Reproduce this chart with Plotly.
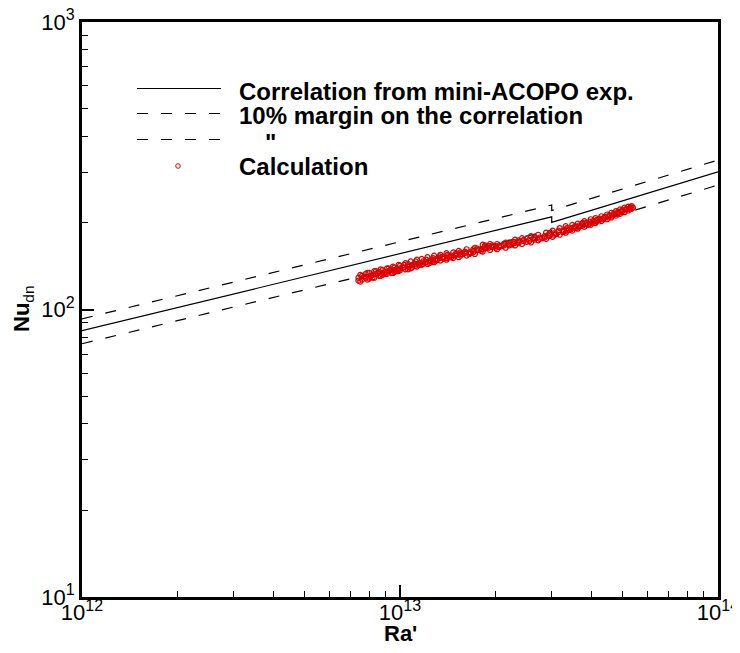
import plotly.graph_objects as go

# ---------------- data ----------------
# correlation (mini-ACOPO) : Ra' and Nu_dn at the ends and at the jump
corr_ra = [1e12, 3e13, 3e13, 1e14]
corr_nu = [84.4, 210, 201, 301]
# 10% margins on the correlation
upper_nu = [92.8, 231, 221, 331]
lower_nu = [76.0, 189, 181, 271]

# calculation points: Ra' in units of 1e13, Nu_dn
calc_ra_e13 = [
    0.74, 0.74, 0.76, 0.76, 0.78, 0.78, 0.80, 0.80, 0.80, 0.82, 0.82, 0.84, 0.84,
    0.86, 0.86, 0.88, 0.88, 0.88, 0.90, 0.90, 0.92, 0.92, 0.94, 0.94, 0.96, 0.96,
    0.96, 0.98, 0.98, 1.00, 1.00, 1.00, 1.03, 1.03, 1.06, 1.06, 1.06, 1.09, 1.09,
    1.12, 1.12, 1.12, 1.15, 1.15, 1.18, 1.18, 1.21, 1.21, 1.24, 1.24, 1.27, 1.27,
    1.27, 1.30, 1.30, 1.33, 1.33, 1.37, 1.37, 1.41, 1.41, 1.41, 1.45, 1.45, 1.50,
    1.50, 1.55, 1.55, 1.55, 1.60, 1.60, 1.65, 1.65, 1.70, 1.70, 1.70, 1.75, 1.75,
    1.80, 1.80, 1.85, 1.85, 1.85, 1.90, 1.90, 1.95, 1.95, 2.00, 2.00, 2.05, 2.05,
    2.12, 2.12, 2.20, 2.20, 2.20, 2.28, 2.28, 2.36, 2.36, 2.36, 2.45, 2.45, 2.55,
    2.55, 2.65, 2.65, 2.65, 2.75, 2.75, 2.85, 2.85, 2.95, 2.95, 2.95, 3.05, 3.05,
    3.15, 3.15, 3.25, 3.25, 3.35, 3.35, 3.35, 3.45, 3.45, 3.55, 3.55, 3.65, 3.65,
    3.75, 3.75, 3.75, 3.85, 3.85, 3.95, 3.95, 4.05, 4.05, 4.15, 4.15, 4.25, 4.25,
    4.40, 4.40, 4.55, 4.55, 4.70, 4.70, 4.85, 4.85, 5.00, 5.00, 5.15, 5.15, 5.30,
    5.30, 5.40,
    0.75, 0.75, 0.79, 0.79, 0.83, 0.83, 0.87, 0.87, 0.91, 0.91, 0.95, 0.95, 0.99,
    0.99, 1.04, 1.04, 1.08, 1.08, 1.13, 1.13, 1.17, 1.17, 1.22, 1.22, 1.28, 1.28,
    1.34, 1.34, 1.40, 1.40, 1.47, 1.47, 1.53, 1.53, 1.62, 1.62, 1.72, 1.72, 1.82,
    1.82, 1.92, 1.92, 2.02, 2.02, 2.15, 2.15, 2.30, 2.30, 2.42, 2.42, 2.58, 2.58,
    2.72, 2.72, 2.88, 2.88, 3.02, 3.02, 3.18, 3.18, 3.32, 3.32, 3.48, 3.48, 3.62,
    3.62, 3.80, 3.80, 3.98, 3.98, 4.12, 4.12, 4.30, 4.30, 4.48, 4.48, 4.62, 4.62,
    4.78, 4.78, 4.92, 4.92, 5.08, 5.08, 5.22, 5.22, 5.35, 5.35,
    0.77, 0.81, 0.85, 0.89, 0.93, 0.97, 1.02, 1.07, 1.11, 1.16, 1.20, 1.25, 1.31,
    1.36, 1.43, 1.49, 1.57, 1.67, 1.77, 1.87, 1.97, 2.08, 2.24, 2.33, 2.50, 2.62,
    2.80, 2.92, 3.10, 3.28, 3.40, 3.58, 3.70, 3.90, 4.08, 4.20, 4.35, 4.52, 4.66,
    4.82, 4.96, 5.12, 5.26,
]
calc_nu = [
    126, 129, 131, 127, 129, 133, 130, 134, 128, 132, 129, 133, 136,
    131, 135, 134, 137, 132, 135, 133, 136, 139, 134, 138, 137, 140,
    135, 138, 136, 139, 142, 137, 140, 143, 141, 138, 144, 143, 140,
    144, 147, 142, 145, 143, 147, 144, 146, 149, 148, 145, 149, 151,
    147, 150, 148, 151, 153, 152, 150, 153, 155, 151, 154, 152, 155,
    157, 156, 154, 158, 157, 159, 158, 156, 160, 158, 162, 161, 163,
    162, 160, 165, 163, 167, 166, 164, 167, 165, 166, 164, 165, 167,
    167, 169, 169, 167, 171, 170, 172, 172, 170, 174, 173, 175, 175,
    173, 177, 175, 179, 178, 176, 180, 178, 182, 180, 184, 184, 182,
    186, 188, 188, 186, 190, 192, 188, 192, 190, 193, 195, 194, 196,
    196, 198, 200, 198, 200, 199, 202, 201, 203, 203, 205, 205, 207,
    208, 210, 211, 213, 214, 216, 217, 219, 220, 222, 223, 224, 225,
    227, 226,
    125, 132, 127, 134, 129, 136, 131, 138, 133, 139, 134, 141, 136,
    143, 138, 145, 139, 147, 141, 149, 143, 150, 144, 152, 146, 154,
    148, 155, 149, 157, 151, 158, 152, 160, 154, 162, 156, 164, 159,
    168, 161, 169, 162, 169, 164, 171, 167, 175, 169, 177, 171, 180,
    174, 182, 176, 185, 179, 188, 182, 192, 185, 195, 188, 197, 191,
    199, 194, 203, 197, 206, 200, 208, 203, 211, 206, 214, 209, 217,
    212, 220, 215, 223, 218, 226, 221, 228, 224, 229,
    130, 131, 134, 133, 137, 136, 140, 141, 144, 145, 146, 147, 149,
    152, 152, 154, 156, 157, 161, 164, 166, 166, 168, 171, 172, 176,
    177, 181, 183, 187, 189, 192, 195, 197, 200, 204, 206, 209, 212,
    215, 218, 221, 224,
]
calc_ra = [v * 1e13 for v in calc_ra_e13]

# tick positions and labels (exponents of ten)
x_tickvals = [1e12, 1e13, 1e14]
x_ticktext = ["12", "13", "14"]
y_tickvals = [1e1, 1e2, 1e3]
y_ticktext = ["1", "2", "3"]

legend_labels = [
    "Correlation from mini-ACOPO exp.",
    "10% margin on the correlation",
    "\"",
    "Calculation",
]

RED = "#dd0000"
FONT = "Liberation Sans, Arial, Helvetica, sans-serif"
DASH = "11px,13px"


def pow_label(e):
    return "10<sup><span style='font-size:16px'>" + e + "</span></sup>"


fig = go.Figure()
fig.add_trace(go.Scatter(x=corr_ra, y=corr_nu, mode="lines",
                         line=dict(color="black", width=1.2), hoverinfo="skip"))
fig.add_trace(go.Scatter(x=corr_ra, y=upper_nu, mode="lines",
                         line=dict(color="black", width=1.2, dash=DASH), hoverinfo="skip"))
fig.add_trace(go.Scatter(x=corr_ra, y=lower_nu, mode="lines",
                         line=dict(color="black", width=1.2, dash=DASH), hoverinfo="skip"))
fig.add_trace(go.Scatter(x=calc_ra, y=calc_nu, mode="markers",
                         marker=dict(symbol="circle-open", size=5, color=RED,
                                     line=dict(width=1.2, color=RED))))

# the page has an 8px body margin: the figure is drawn 8px right/down
W, H = 740, 653
PX0, PX1, PY0, PY1 = 82, 718, 22, 597   # plot area in page pixels
OFF = 8
L, T = PX0 - OFF, PY0 - OFF
R = W - (PX1 - OFF)
B = H - (PY1 - OFF)


def px(x):
    return (x - PX0) / (PX1 - PX0)


def py(y):
    return (PY1 - y) / (PY1 - PY0)


shapes = []
rows = [88.5, 113.5, 139.5]
dashes = [None, DASH, DASH]
for r, d in zip(rows, dashes):
    ln = dict(color="black", width=1.2)
    if d:
        ln["dash"] = d
    shapes.append(dict(type="line", xref="paper", yref="paper",
                       x0=px(137), x1=px(221), y0=py(r), y1=py(r), line=ln))
shapes.append(dict(type="circle", xref="paper", yref="paper",
                   xsizemode="pixel", ysizemode="pixel",
                   xanchor=px(178), yanchor=py(166),
                   x0=-2.3, x1=2.3, y0=-2.3, y1=2.3,
                   line=dict(color=RED, width=1)))

annotations = []
text_rows = [(237, 91), (237, 116), (263, 142), (237, 166.5)]
for (tx, ty), lab in zip(text_rows, legend_labels):
    annotations.append(dict(text="<b>" + lab + "</b>", xref="paper", yref="paper",
                            x=px(tx), y=py(ty), xanchor="left", yanchor="middle",
                            showarrow=False, font=dict(family=FONT, size=24, color="black")))

annotations.append(dict(text="<b>Ra'</b>", xref="paper", yref="paper",
                        x=px(400), y=py(633), xanchor="center", yanchor="middle",
                        showarrow=False, font=dict(family=FONT, size=22, color="black")))
annotations.append(dict(text="<b>Nu</b><sub>dn</sub>", xref="paper", yref="paper",
                        x=px(23), y=py(309), xanchor="center", yanchor="middle",
                        textangle=-90, showarrow=False,
                        font=dict(family=FONT, size=22, color="black")))

axis_common = dict(
    type="log", showgrid=False, zeroline=False,
    showline=True, linecolor="black", linewidth=3, mirror=True,
    ticks="inside", ticklen=12, tickwidth=2, tickcolor="black",
    ticklabeloverflow="allow",
    tickfont=dict(family=FONT, size=22, color="black"),
    minor=dict(ticks="inside", ticklen=6, tickwidth=1, tickcolor="black",
               dtick="D1", showgrid=False),
)

fig.update_layout(
    width=W, height=H,
    margin=dict(l=L, r=R, t=T, b=B, autoexpand=False),
    plot_bgcolor="white", paper_bgcolor="white",
    showlegend=False,
    xaxis=dict(range=[12, 14], tickvals=x_tickvals,
               ticktext=[pow_label(e) for e in x_ticktext],
               ticklabelstandoff=-6, **axis_common),
    yaxis=dict(range=[1, 3], tickvals=y_tickvals,
               ticktext=[pow_label(e) for e in y_ticktext], **axis_common),
    shapes=shapes,
    annotations=annotations,
)

fig.write_html("out.html")
